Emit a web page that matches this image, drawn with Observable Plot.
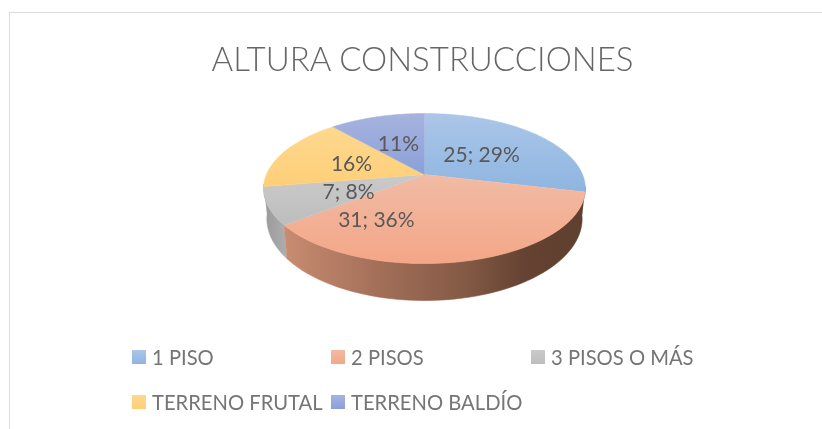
<!DOCTYPE html>
<html>
<head>
<meta charset="utf-8">
<script src="https://cdn.jsdelivr.net/npm/d3@7"></script>
<script src="https://cdn.jsdelivr.net/npm/@observablehq/plot@0.6"></script>
<style>
html,body{margin:0;padding:0;background:#fff;overflow:hidden}
#chart{position:relative;width:822px;height:429px;font-family:Lato,"Open Sans",sans-serif;overflow:hidden;filter:blur(0.3px)}
#frame{position:absolute;left:9px;top:12px;right:-5px;bottom:-5px;border:1.5px solid #dcdcdc}
#title{position:absolute;left:0;top:38px;width:845px;text-align:center;font-size:33px;font-weight:300;color:#666;line-height:40px;margin:0}
#plot{position:absolute;left:0;top:0}
.lg{position:absolute;display:flex;align-items:center;font-size:20.2px;color:#757575;white-space:nowrap;line-height:24px}
.lg i{display:inline-block;width:14px;height:14px;margin-right:6px}
</style>
</head>
<body>
<div id="chart">
<div id="frame"></div>
<div id="plot"></div>
<h1 id="title"></h1>
</div>
<script>
const titleText = "ALTURA CONSTRUCCIONES";
const categories = ["1 PISO", "2 PISOS", "3 PISOS O MÁS", "TERRENO FRUTAL", "TERRENO BALDÍO"];
const values = [25, 31, 7, 14, 10];
const labels = ["25; 29%", "31; 36%", "7; 8%", "16%", "11%"];
const topColors = ["#abc6e8", "#f1bba4", "#cacaca", "#fdd88f", "#a6b3de"];
const bottomColors = ["#8eb5e1", "#f4a687", "#bdbdbd", "#fecf78", "#8b9fd9"];
const labelAngle = [54, 205.6, 242.6, 286.7, 338.3];
const labelRadius = [0.469, 0.63, 0.517, 0.495, 0.483];

const persp = 0.187, depthShift = 0.40, depthScaleY = 1.09, depthScaleX = 0.98;
const total = d3.sum(values);
const rad = d => d * Math.PI / 180;
function project(deg, r = 1) {
  const u = r * Math.sin(rad(deg)), v = -r * Math.cos(rad(deg)), w = 1 - persp * v;
  return {x: u / w, y: v / w};
}
const lower = p => ({x: p.x * depthScaleX, y: p.y * depthScaleY + depthShift});
const arc = (a0, a1) => d3.range(0, 61).map(i => a0 + (a1 - a0) * i / 60);
const cum = d3.cumsum(values);
const startDeg = i => (i ? cum[i - 1] : 0) / total * 360;
const endDeg = i => cum[i] / total * 360;

const slices = categories.map((c, i) => [project(0, 0), ...arc(startDeg(i), endDeg(i)).map(a => project(a))]);
const wall = (a0, a1) => {
  const t = arc(a0, a1).map(a => project(a));
  return [...t, ...t.slice().reverse().map(lower)];
};
const wallOrange = wall(startDeg(1) - 4, endDeg(1));
const wallGrey = wall(endDeg(1), endDeg(2) + 2);

const defs = () => {
  const d = d3.create("svg:defs");
  categories.forEach((c, i) => {
    const g = d.append("linearGradient").attr("id", "top" + i).attr("x1", 0).attr("y1", 0).attr("x2", 0).attr("y2", 1);
    g.append("stop").attr("offset", 0).attr("stop-color", topColors[i]);
    g.append("stop").attr("offset", 1).attr("stop-color", bottomColors[i]);
  });
  const w = d.append("linearGradient").attr("id", "wallO").attr("x1", 0).attr("y1", 0).attr("x2", 1).attr("y2", 0);
  [[0, "#c88c70"], [0.3, "#a5705a"], [0.6, "#835a45"], [0.8, "#654232"], [1, "#5f3f2e"]].forEach(([o, c]) => w.append("stop").attr("offset", o).attr("stop-color", c));
  const g2 = d.append("linearGradient").attr("id", "wallG").attr("x1", 0).attr("y1", 0).attr("x2", 1).attr("y2", 0);
  g2.append("stop").attr("offset", 0).attr("stop-color", "#999");
  g2.append("stop").attr("offset", 1).attr("stop-color", "#aeaeae");
  return d.node();
};

const poly = (pts, fill) => Plot.line(pts, {x: "x", y: "y", fill, stroke: fill, strokeWidth: 0.6, curve: "linear"});

const labelRows = labels.map((t, i) => ({t, ...project(labelAngle[i], labelRadius[i])}));

const chart = Plot.plot({
  width: 822, height: 429, margin: 0,
  style: {background: "transparent"},
  x: {domain: [-1, 1], range: [424 - 158, 424 + 158], axis: null},
  y: {domain: [-1, 1], range: [174 - 72.4, 174 + 72.4], axis: null},
  marks: [
    defs,
    poly(wallGrey, "url(#wallG)"),
    poly(wallOrange, "url(#wallO)"),
    ...slices.map((s, i) => poly(s, `url(#top${i})`)),
    Plot.text(labelRows, {x: "x", y: "y", text: "t", fontSize: 21, fill: "#595959", fontFamily: "Lato, sans-serif"})
  ]
});
document.getElementById("plot").append(chart);
document.getElementById("title").textContent = titleText;

const legendPos = [[132, 345], [331, 345], [531, 345], [132, 390], [331, 390]];
const root = document.getElementById("chart");
categories.forEach((c, i) => {
  const el = document.createElement("div");
  el.className = "lg";
  el.style.left = legendPos[i][0] + "px";
  el.style.top = legendPos[i][1] + "px";
  const sw = document.createElement("i");
  sw.style.background = `linear-gradient(${topColors[i]},${bottomColors[i]})`;
  el.append(sw, document.createTextNode(c));
  root.append(el);
});
</script>
</body>
</html>
